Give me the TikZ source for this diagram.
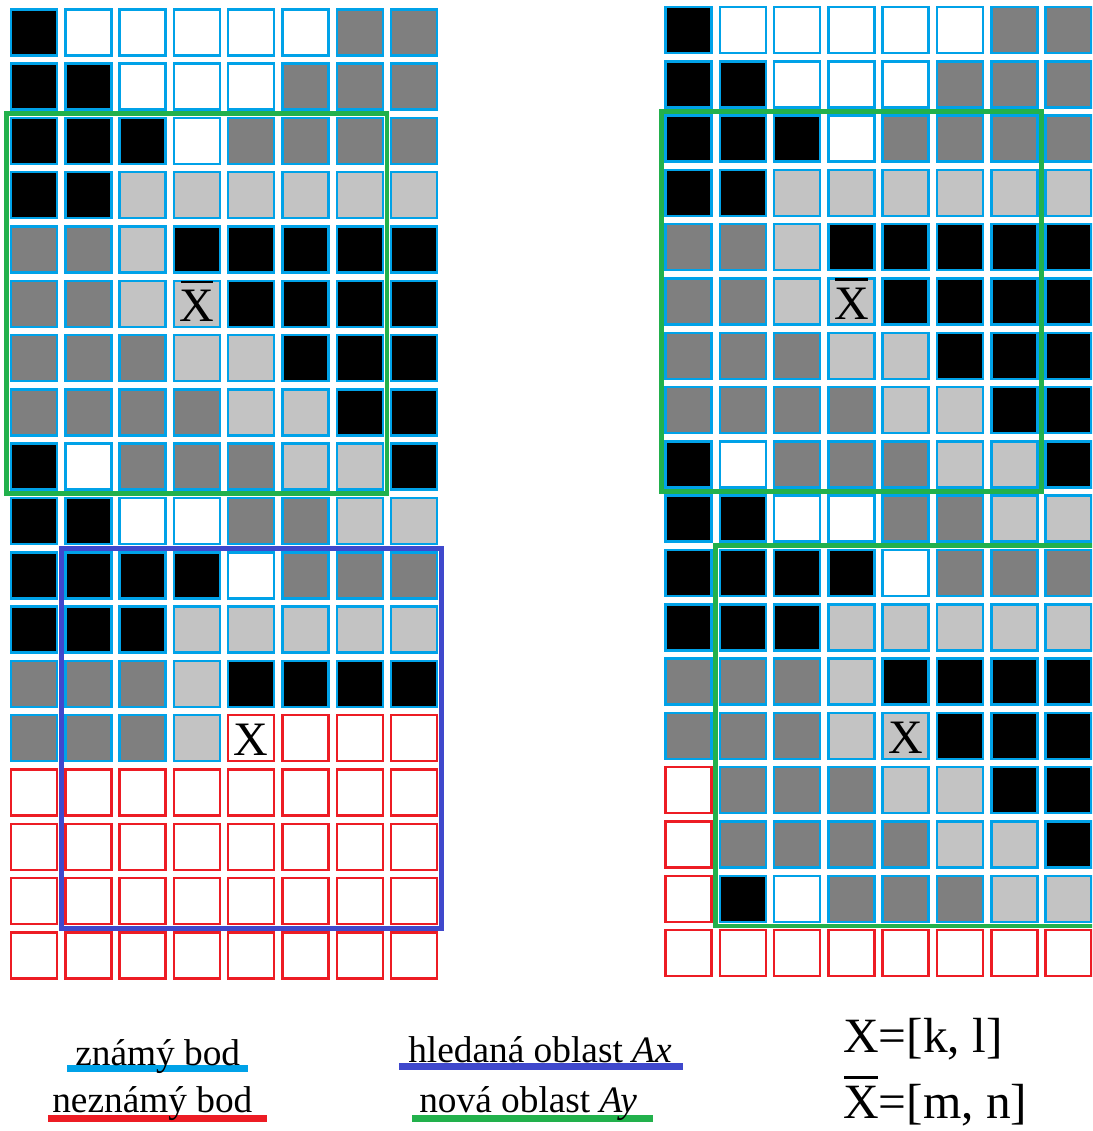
\documentclass[tikz,border=0pt]{standalone}
\usepackage{fontspec}
\setmainfont{Liberation Serif}
\definecolor{kblue}{HTML}{00A2E8}
\definecolor{kred}{HTML}{ED1C24}
\definecolor{kindigo}{HTML}{3F48CC}
\definecolor{kgreen}{HTML}{22B14C}
\definecolor{kdark}{HTML}{7F7F7F}
\definecolor{klight}{HTML}{C3C3C3}
\newcommand{\xbar}{\leavevmode\rlap{\hspace{0.02em}\rule[0.79em]{0.68em}{0.055em}}X}
\begin{document}
\begin{tikzpicture}[x=0.75pt,y=-0.75pt,
  cellbase/.style={line width=1.875pt},
  kB/.style={cellbase,draw=kblue,fill=black},
  kW/.style={cellbase,draw=kblue,fill=white},
  kG/.style={cellbase,draw=kblue,fill=kdark},
  kL/.style={cellbase,draw=kblue,fill=klight},
  kR/.style={cellbase,draw=kred,fill=white},
  region/.style={line width=3.6pt},
  swatch/.style={line width=5.25pt},
  legend/.style={font=\fontsize{28}{33}\selectfont, inner sep=0pt, anchor=base west},
  formula/.style={font=\fontsize{37}{43}\selectfont, inner sep=0pt, anchor=base west},
  celltext/.style={font=\fontsize{36}{42}\selectfont, inner sep=0pt, anchor=base}]
\useasboundingbox (0,0) rectangle (1092,1131);
\fill[white] (0,0) rectangle (1092,1131);
\clip (0,0) rectangle (1092,1131);
% left grid
\foreach \row [count=\r from 0] in {
{kB,kW,kW,kW,kW,kW,kG,kG},
{kB,kB,kW,kW,kW,kG,kG,kG},
{kB,kB,kB,kW,kG,kG,kG,kG},
{kB,kB,kL,kL,kL,kL,kL,kL},
{kG,kG,kL,kB,kB,kB,kB,kB},
{kG,kG,kL,kL,kB,kB,kB,kB},
{kG,kG,kG,kL,kL,kB,kB,kB},
{kG,kG,kG,kG,kL,kL,kB,kB},
{kB,kW,kG,kG,kG,kL,kL,kB},
{kB,kB,kW,kW,kG,kG,kL,kL},
{kB,kB,kB,kB,kW,kG,kG,kG},
{kB,kB,kB,kL,kL,kL,kL,kL},
{kG,kG,kG,kL,kB,kB,kB,kB},
{kG,kG,kG,kL,kR,kR,kR,kR},
{kR,kR,kR,kR,kR,kR,kR,kR},
{kR,kR,kR,kR,kR,kR,kR,kR},
{kR,kR,kR,kR,kR,kR,kR,kR},
{kR,kR,kR,kR,kR,kR,kR,kR}}
{\foreach \t [count=\c from 0] in \row {\draw[\t] ({10+\c*54.3+1},{8.3+\r*54.3+1}) rectangle ++(46,46);}}
% right grid
\foreach \row [count=\r from 0] in {
{kB,kW,kW,kW,kW,kW,kG,kG},
{kB,kB,kW,kW,kW,kG,kG,kG},
{kB,kB,kB,kW,kG,kG,kG,kG},
{kB,kB,kL,kL,kL,kL,kL,kL},
{kG,kG,kL,kB,kB,kB,kB,kB},
{kG,kG,kL,kL,kB,kB,kB,kB},
{kG,kG,kG,kL,kL,kB,kB,kB},
{kG,kG,kG,kG,kL,kL,kB,kB},
{kB,kW,kG,kG,kG,kL,kL,kB},
{kB,kB,kW,kW,kG,kG,kL,kL},
{kB,kB,kB,kB,kW,kG,kG,kG},
{kB,kB,kB,kL,kL,kL,kL,kL},
{kG,kG,kG,kL,kB,kB,kB,kB},
{kG,kG,kG,kL,kL,kB,kB,kB},
{kR,kG,kG,kG,kL,kL,kB,kB},
{kR,kG,kG,kG,kG,kL,kL,kB},
{kR,kB,kW,kG,kG,kG,kL,kL},
{kR,kR,kR,kR,kR,kR,kR,kR}}
{\foreach \t [count=\c from 0] in \row {\draw[\t] ({664.5+\c*54.3+1},{6+\r*54.3+1}) rectangle ++(46,46);}}
% regions
\draw[region,kgreen] (6.85,113.75) rectangle (386.95,493.85);
\draw[region,kindigo] (61.15,548.15) rectangle (441.25,928.25);
\draw[region,kgreen] (661.35,111.45) rectangle (1041.45,491.55);
\draw[region,kgreen] (715.65,545.85) rectangle (1095.75,925.95);
% cell labels
\node[celltext] (lxbar) at (196.9,321.3) {\xbar};
\node[celltext] (lx) at (251.2,755.7) {X};
\node[celltext] (rxbar) at (851.4,319) {\xbar};
\node[celltext] (rx) at (905.7,753.4) {X};
% legend
\draw[swatch,kblue] (67,1068.5) -- (248,1068.5);
\draw[swatch,kred] (48,1118) -- (267,1118);
\draw[swatch,kindigo] (399,1066.5) -- (683,1066.5);
\draw[swatch,kgreen] (412,1118) -- (653,1118);
\node[legend] (known) at (75,1065) {známý bod};
\node[legend] (unknown) at (52,1112) {neznámý bod};
\node[legend] (searched) at (408,1062) {hledaná oblast \textit{Ax}};
\node[legend] (newarea) at (419,1112) {nová oblast \textit{Ay}};
\node[formula] (fx) at (843,1052) {X=[k, l]};
\node[formula] (fxbar) at (843,1118) {\xbar=[m, n]};
\end{tikzpicture}
\end{document}
